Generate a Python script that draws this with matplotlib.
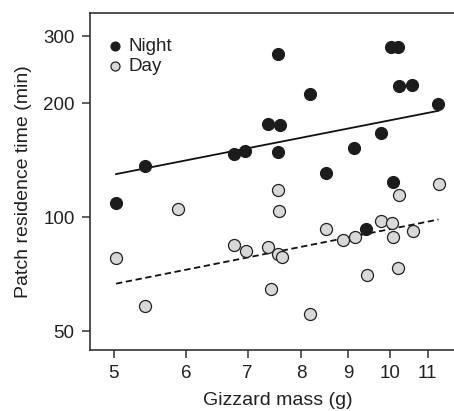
import matplotlib
matplotlib.use("Agg")
import matplotlib.pyplot as plt
from matplotlib.ticker import FixedLocator, NullLocator, FixedFormatter

plt.rcParams['font.family'] = ['Liberation Sans', 'DejaVu Sans']

# night birds: gizzard mass (g), patch residence time (min)
night_mass = [5.03, 5.41, 6.76, 6.96, 7.36, 7.60, 7.55, 7.56, 8.18, 8.51,
              9.15, 9.77, 10.04, 10.21, 10.23, 10.58, 11.30, 10.09, 9.43]
night_time = [108.9, 136.3, 146.7, 149.4, 176.3, 174.9, 149.0, 268.9, 210.8, 130.4,
              152.1, 166.9, 281.6, 281.6, 222.2, 223.5, 198.8, 123.9, 92.8]

# day birds
day_mass = [5.03, 5.41, 5.87, 6.76, 6.97, 7.36, 7.43, 7.55, 7.57, 7.55, 7.62, 8.18,
            8.51, 8.90, 9.16, 9.44, 9.77, 10.05, 10.08, 10.21, 10.24, 10.60, 11.31]
day_time = [78.1, 58.3, 105.0, 84.3, 81.3, 83.5, 64.7, 118.3, 104.1, 80.2, 78.7, 55.6,
            93.1, 87.3, 88.4, 70.2, 97.8, 96.6, 88.7, 73.5, 114.5, 91.8, 122.2]

# fitted lines (end points)
fit_mass = [5.03, 11.3]
night_fit = [129.9, 190.8]
day_fit = [66.8, 98.6]

xticks = [5, 6, 7, 8, 9, 10, 11]
yticks = [50, 100, 200, 300]

fig = plt.figure(figsize=(4.54, 4.11), dpi=100)
# the original panel runs a little past the right edge of the picture
ax = fig.add_axes([0.198, 0.148, 0.830, 0.821])

ax.plot(fit_mass, night_fit, color='#111111', lw=1.3, zorder=2)
ax.plot(fit_mass, day_fit, color='#111111', lw=1.3, ls=(0, (3.5, 2)), zorder=2)

ax.scatter(night_mass, night_time, s=75, facecolor='#1c1c1c', edgecolor='#1c1c1c',
           linewidth=0.8, zorder=3, label='Night')
ax.scatter(day_mass, day_time, s=75, facecolor='#d8d8d8', edgecolor='#222222',
           linewidth=0.9, zorder=3, label='Day')

ax.set_xscale('log')
ax.set_yscale('log')
ax.set_xlim(4.71, 12.13)
ax.set_ylim(44.6, 346)

ax.xaxis.set_major_locator(FixedLocator(xticks))
ax.xaxis.set_major_formatter(FixedFormatter([str(t) for t in xticks]))
ax.xaxis.set_minor_locator(NullLocator())
ax.yaxis.set_major_locator(FixedLocator(yticks))
ax.yaxis.set_major_formatter(FixedFormatter([str(t) for t in yticks]))
ax.yaxis.set_minor_locator(NullLocator())

ax.tick_params(direction='out', length=6, width=1.1, labelsize=13.5, color='#333333',
               labelcolor='#222222', pad=5)
ax.spines['right'].set_visible(False)
for s in ['left', 'top', 'bottom']:
    ax.spines[s].set_linewidth(1.2)
    ax.spines[s].set_color('#333333')

ax.set_xlabel('Gizzard mass (g)', fontsize=14, color='#222222', labelpad=7)
ax.set_ylabel('Patch residence time (min)', fontsize=14, color='#222222', labelpad=8)

leg = ax.legend(loc='upper left', bbox_to_anchor=(0.043, 0.925), frameon=False,
                fontsize=13.5, handlelength=1.0, handletextpad=0.2, labelspacing=0.15,
                markerscale=0.75, borderaxespad=0, borderpad=0)
for t in leg.get_texts():
    t.set_color('#222222')

fig.savefig('out.png', dpi=100)
